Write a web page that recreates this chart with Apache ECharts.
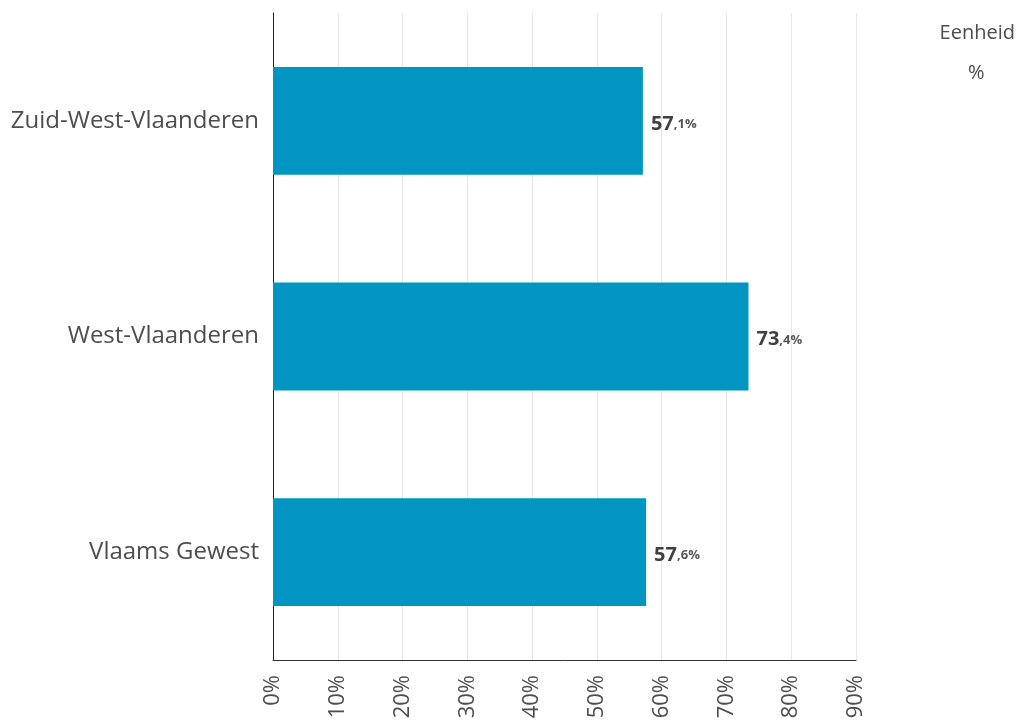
<!DOCTYPE html>
<html>
<head>
<meta charset="utf-8">
<script src="https://cdn.jsdelivr.net/npm/echarts@6/dist/echarts.min.js"></script>
<style>
  html, body { margin: 0; padding: 0; background: #fff; }
  #chart { width: 1018px; height: 722px; }
</style>
</head>
<body>
<div id="chart"></div>
<script>
// regio's, van boven naar onder
var regions = ['Zuid-West-Vlaanderen', 'West-Vlaanderen', 'Vlaams Gewest']
var shares = [57.1, 73.4, 57.6]
var tickMax = 90
var unitLabel = ['Eenheid', '%']

var chart = echarts.init(document.getElementById('chart'))

function fmtLabel(p) {
  var parts = p.value.toFixed(1).split('.')
  return '{a|' + parts[0] + '}{b|,' + parts[1] + '%}'
}

chart.setOption({
  animation: false,
  textStyle: { fontFamily: 'Open Sans, Noto Sans, sans-serif' },
  grid: { left: 273, right: 162, top: 13, bottom: 62, containLabel: false },
  xAxis: {
    type: 'value',
    min: 0,
    max: tickMax,
    interval: 10,
    axisLine: { show: true, lineStyle: { color: '#333', width: 1 } },
    axisTick: { show: false },
    splitLine: { show: true, lineStyle: { color: '#e6e6e6', width: 1 } },
    axisLabel: {
      rotate: 90,
      margin: 15,
      fontSize: 22,
      color: '#4d4d4d',
      formatter: '{value}%'
    }
  },
  yAxis: {
    type: 'category',
    data: regions,
    inverse: true,
    axisLine: { show: true, lineStyle: { color: '#222', width: 1 } },
    axisTick: { show: false },
    axisLabel: { fontSize: 24, color: '#4d4d4d', margin: 14 }
  },
  graphic: [
    { type: 'text', right: 3, top: 23, style: { text: unitLabel[0], fontSize: 20, fill: '#4d4d4d', fontFamily: 'Open Sans, sans-serif' } },
    { type: 'text', left: 968, top: 63, style: { text: unitLabel[1], fontSize: 20, fill: '#4d4d4d', fontFamily: 'Open Sans, sans-serif' } }
  ],
  series: [{
    type: 'bar',
    data: shares,
    barWidth: '50%',
    itemStyle: { color: '#0096c1' },
    label: {
      show: true,
      position: 'right',
      distance: 8,
      formatter: fmtLabel,
      rich: {
        a: { fontSize: 20, fontWeight: 'bold', color: '#404040', verticalAlign: 'bottom', lineHeight: 26 },
        b: { fontSize: 13, fontWeight: 'bold', color: '#555', verticalAlign: 'bottom', lineHeight: 22, padding: [0, 0, 3, 0] }
      }
    }
  }]
})
</script>
</body>
</html>
